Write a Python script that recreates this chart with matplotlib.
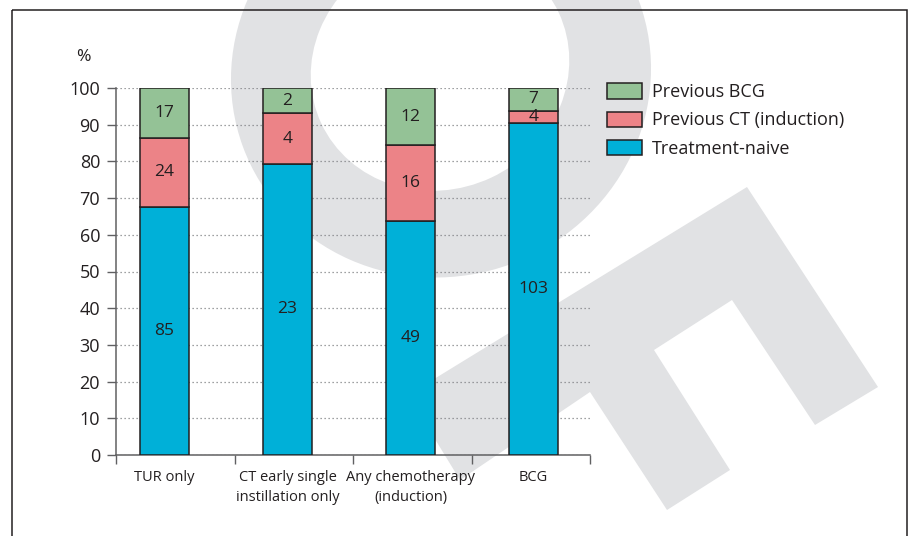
import matplotlib
matplotlib.use("Agg")
import matplotlib.pyplot as plt
from matplotlib.patches import Ellipse, Polygon, Rectangle, Patch
import numpy as np

plt.rcParams['font.family'] = ['Open Sans', 'DejaVu Sans']

# ---- data ----
categories = ["TUR only", "CT early single\ninstillation only",
              "Any chemotherapy\n(induction)", "BCG"]
treatment_naive = [85, 23, 49, 103]
previous_ct = [24, 4, 16, 4]
previous_bcg = [17, 2, 12, 7]
series_names = ["Treatment-naive", "Previous CT (induction)", "Previous BCG"]
yticks = [0, 10, 20, 30, 40, 50, 60, 70, 80, 90, 100]

colors = ["#00B0D8", "#EC8387", "#94C296"]
text_c = "#231F20"
axis_c = "#606062"
wm_c = "#E1E2E4"

W, H = 909, 536
fig = plt.figure(figsize=(W / 100, H / 100), dpi=100)

# ---- background watermark (pixel coordinates, y down) ----
bg = fig.add_axes([0, 0, 1, 1], zorder=0)
bg.set_xlim(0, W)
bg.set_ylim(H, 0)
bg.axis('off')
bg.add_patch(Ellipse((441, 74), 422, 405, angle=-20, color=wm_c, lw=0, zorder=1))
bg.add_patch(Ellipse((440, 68), 262, 242, angle=-25, color='white', lw=0, zorder=2))
bg.add_patch(Polygon([(408, 395), (747, 187), (878, 387), (815, 425), (732, 300),
                      (654, 350), (730, 470), (667, 510), (590, 392), (460, 480)],
                     closed=True, color=wm_c, lw=0, zorder=3))
bg.add_patch(Rectangle((11.5, 10), 895.5, 540, fill=False, ec=text_c, lw=1.1, zorder=5))

# ---- main axes ----
left, right, top, bottom = 116, 590, 88, 455
ax = fig.add_axes([left / W, 1 - bottom / H, (right - left) / W, (bottom - top) / H], zorder=2)
ax.set_facecolor('none')

x = np.arange(len(categories))
totals = np.array(treatment_naive) + np.array(previous_ct) + np.array(previous_bcg)
counts = [np.array(treatment_naive), np.array(previous_ct), np.array(previous_bcg)]
pcts = [c / totals * 100 for c in counts]

xmin, xmax = -0.394, 3.459
bw = 0.4
base = np.zeros(len(categories))
for cnt, pct, col in zip(counts, pcts, colors):
    ax.bar(x, pct, bw, bottom=base, color=col, edgecolor=text_c, linewidth=1.1, zorder=3)
    for xi, b, p, c in zip(x, base, pct, cnt):
        ax.text(xi, b + p / 2, str(c), ha='center', va='center', fontsize=12.5,
                color=text_c, zorder=4)
    base = base + pct

ax.set_xlim(xmin, xmax)
ax.set_ylim(0, 100)
ax.set_yticks(yticks)
ax.set_yticklabels([str(v) for v in yticks])
ax.yaxis.grid(True, linestyle=(0, (1, 2.2)), color='#808285', linewidth=0.9)
ax.set_axisbelow(True)

ax.set_xticks(np.linspace(xmin, xmax, 5))
ax.set_xticklabels([])
ax.set_xticks(x, minor=True)
ax.set_xticklabels(categories, minor=True, linespacing=1.4)
ax.tick_params(axis='x', which='minor', length=0, pad=11, labelsize=10.5, labelcolor=text_c)
ax.tick_params(axis='x', which='major', length=6.5, width=1.0, color=axis_c, direction='out')
ax.tick_params(axis='y', length=6.5, width=1.0, color=axis_c, direction='out', pad=5,
               labelsize=13, labelcolor=text_c)

for s in ['top', 'right']:
    ax.spines[s].set_visible(False)
for s in ['left', 'bottom']:
    ax.spines[s].set_color(axis_c)
    ax.spines[s].set_linewidth(1.1)

fig.text(83 / W, 1 - 57 / H, "%", ha='center', va='center', fontsize=12.6, color=text_c)

handles = [Patch(facecolor=colors[i], edgecolor=text_c, linewidth=1.1) for i in [2, 1, 0]]
labels = [series_names[i] for i in [2, 1, 0]]
leg = fig.legend(handles, labels, loc='upper left', bbox_to_anchor=(607 / W, 1 - 83 / H),
                 frameon=False, fontsize=13, handlelength=1.94, handleheight=0.94,
                 handletextpad=0.55, labelspacing=0.58, borderpad=0, borderaxespad=0,
                 labelcolor=text_c)

fig.savefig("out.png", dpi=100)
